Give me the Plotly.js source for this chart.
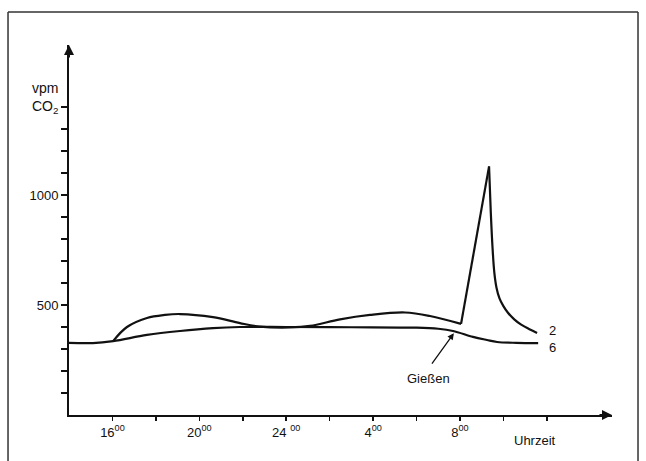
<!DOCTYPE html>
<html>
<head>
<meta charset="utf-8">
<script src="https://cdn.plot.ly/plotly-3.0.1.min.js"></script>
<style>html,body{margin:0;padding:0;background:#fff;}#chart{width:646px;height:461px;}</style>
</head>
<body>
<div id="chart"></div>
<script>
// hours after 14:00
const hours2 = [2.03, 2.67, 3.59, 4.42, 5.11, 6.63, 7.87, 8.79, 10.17, 11.10, 12.48, 13.86, 15.47, 16.62, 18.05, 19.34, 19.42, 19.50, 19.58, 19.68, 19.82, 20.0, 20.21, 20.5, 20.8, 21.2, 21.55];
const co2_2  = [336, 400, 441, 455, 459, 445, 418, 402, 398, 405, 435, 455, 466, 450, 414, 1130, 920, 760, 650, 580, 530, 495, 465, 435, 412, 390, 373];
const hours6 = [0, 1.1, 2.03, 3.59, 5.11, 6.63, 7.87, 10.0, 13.0, 16.0, 17.0, 17.68, 18.6, 19.24, 19.71, 20.6, 21.6];
const co2_6  = [328, 327, 336, 364, 382, 395, 400, 400, 399, 397, 392, 382, 355, 341, 332, 328, 327];
const xTickVals = [2, 4, 6, 8, 10, 12, 14, 16, 18, 20, 22];
const xTickText = ['16<sup>00</sup>', '', '20<sup>00</sup>', '', '24 <sup>00</sup>', '', '4<sup>00</sup>', '', '8<sup>00</sup>', '', ''];
const yTickVals = [100, 200, 300, 400, 500, 600, 700, 800, 900, 1000, 1100, 1200, 1300, 1400];
const yTickText = ['', '', '', '', '500', '', '', '', '', '1000', '', '', '', ''];
const curveLabels = ['2', '6'];

const lineStyle = {color: '#111', width: 2.2};
const traces = [
  {x: hours2.slice(0, 15), y: co2_2.slice(0, 15), mode: 'lines', line: Object.assign({shape: 'spline', smoothing: 1}, lineStyle), name: '2'},
  {x: hours2.slice(14, 16), y: co2_2.slice(14, 16), mode: 'lines', line: Object.assign({shape: 'linear'}, lineStyle), name: '2', showlegend: false},
  {x: hours2.slice(15), y: co2_2.slice(15), mode: 'lines', line: Object.assign({shape: 'spline', smoothing: 1}, lineStyle), name: '2', showlegend: false},
  {x: hours6, y: co2_6, mode: 'lines', line: Object.assign({shape: 'spline', smoothing: 1}, lineStyle), name: '6'}
];

const font = {family: 'Liberation Sans, Arial, sans-serif', size: 13, color: '#111'};
const frame = {color: '#333', width: 1.5};
const layout = {
  width: 646, height: 461,
  margin: {l: 69, r: 34, t: 45, b: 46},
  paper_bgcolor: '#fff', plot_bgcolor: '#fff',
  showlegend: false,
  font: font,
  xaxis: {range: [0, 25], showline: true, linewidth: 2, linecolor: '#111', ticks: 'outside', ticklen: 4, tickwidth: 1.5, tickcolor: '#111',
          tickvals: xTickVals, ticktext: xTickText, showgrid: false, zeroline: false, tickfont: font, fixedrange: true},
  yaxis: {range: [0, 1682], showline: true, linewidth: 2, linecolor: '#111', ticks: 'outside', ticklen: 6, tickwidth: 1.5, tickcolor: '#111',
          tickvals: yTickVals, ticktext: yTickText, showgrid: false, zeroline: false, tickfont: font, fixedrange: true},
  shapes: [
    {type: 'line', xref: 'paper', yref: 'paper', x0: -0.1123, x1: 1.0479, y0: 1.0892, y1: 1.0892, line: frame},
    {type: 'line', xref: 'paper', yref: 'paper', x0: -0.1123, x1: -0.1123, y0: 1.0892, y1: -0.13, line: frame},
    {type: 'line', xref: 'paper', yref: 'paper', x0: 1.0479, x1: 1.0479, y0: 1.0892, y1: -0.13, line: frame}
  ],
  annotations: [
    {xref: 'paper', yref: 'paper', x: -0.072, y: 0.857, xanchor: 'left', yanchor: 'middle', align: 'left', showarrow: false,
     text: 'vpm<br>CO<sub>2</sub>', font: {family: font.family, size: 14, color: '#111'}},
    {x: 21.45, y: 0, yshift: -25, xanchor: 'center', showarrow: false, text: 'Uhrzeit', font: font},
    {x: 22.2, y: co2_2[co2_2.length - 1], xanchor: 'left', yanchor: 'middle', xshift: -4, yshift: 2, showarrow: false, text: curveLabels[0], font: font},
    {x: 22.2, y: co2_6[co2_6.length - 1], yshift: -4, xanchor: 'left', yanchor: 'middle', xshift: -4, showarrow: false, text: curveLabels[1], font: font},
    {x: 16.53, y: 168, showarrow: false, text: 'Gießen', font: font},
    {x: 17.72, y: 372, ax: -23, ay: 32, text: '', showarrow: true, arrowhead: 2, arrowsize: 1, arrowwidth: 1.3, arrowcolor: '#111'},
    {x: 0, y: 1682, ax: 0, ay: 14, text: '', showarrow: true, arrowhead: 2, arrowsize: 1, arrowwidth: 2, arrowcolor: '#111'},
    {x: 25, y: 0, ax: -14, ay: 0, text: '', showarrow: true, arrowhead: 2, arrowsize: 1, arrowwidth: 2, arrowcolor: '#111'}
  ]
};
Plotly.newPlot('chart', traces, layout, {staticPlot: true, displayModeBar: false});
</script>
</body>
</html>
